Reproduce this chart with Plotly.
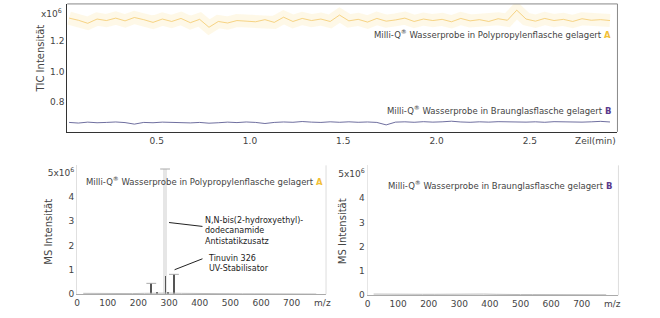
import plotly.graph_objects as go

# ---------------- data ----------------
tic_time = [0.03, 0.08, 0.13, 0.18, 0.23, 0.28, 0.33, 0.38, 0.43, 0.48,
            0.53, 0.58, 0.63, 0.68, 0.73, 0.78, 0.83, 0.88, 0.93, 0.98,
            1.03, 1.08, 1.13, 1.18, 1.23, 1.28, 1.33, 1.38, 1.43, 1.48,
            1.53, 1.58, 1.63, 1.68, 1.73, 1.78, 1.83, 1.88, 1.93, 1.98,
            2.03, 2.08, 2.13, 2.18, 2.23, 2.28, 2.33, 2.38, 2.43, 2.48,
            2.53, 2.58, 2.63, 2.68, 2.73, 2.78, 2.83, 2.88, 2.93]
tic_a = [1.352, 1.338, 1.318, 1.346, 1.336, 1.352, 1.334, 1.356, 1.342, 1.324,
         1.346, 1.330, 1.350, 1.322, 1.344, 1.292, 1.330, 1.320, 1.336, 1.332,
         1.328, 1.342, 1.324, 1.358, 1.330, 1.350, 1.336, 1.346, 1.330, 1.372,
         1.334, 1.344, 1.326, 1.350, 1.332, 1.340, 1.352, 1.330, 1.346, 1.336,
         1.344, 1.328, 1.350, 1.334, 1.342, 1.330, 1.348, 1.338, 1.404, 1.346,
         1.332, 1.350, 1.336, 1.344, 1.330, 1.348, 1.338, 1.342, 1.336]
tic_b = [0.668, 0.664, 0.670, 0.666, 0.668, 0.671, 0.667, 0.657, 0.668, 0.666,
         0.670, 0.667, 0.669, 0.665, 0.668, 0.663, 0.666, 0.670, 0.667, 0.671,
         0.668, 0.661, 0.668, 0.671, 0.669, 0.674, 0.670, 0.668, 0.672, 0.669,
         0.672, 0.669, 0.671, 0.668, 0.652, 0.670, 0.672, 0.669, 0.673, 0.670,
         0.672, 0.676, 0.671, 0.669, 0.672, 0.670, 0.673, 0.671, 0.674, 0.670,
         0.672, 0.669, 0.673, 0.671, 0.674, 0.670, 0.672, 0.675, 0.671]

ms_a_major_mz = [287]
ms_a_major_int = [5.15]
ms_a_mz = [242, 262, 289, 297, 316]
ms_a_int = [0.45, 0.05, 0.75, 0.10, 0.82]
ms_base_mz = [20, 60, 100, 140, 180, 220, 260, 300, 340, 380, 420, 460, 500, 540, 580, 620, 660, 700, 740, 780]
ms_a_base = [0.04, 0.03, 0.04, 0.03, 0.03, 0.04, 0.05, 0.05, 0.04, 0.03, 0.03, 0.02, 0.03, 0.02, 0.02, 0.02, 0.02, 0.02, 0.01, 0.01]
ms_b_base = [0.05, 0.04, 0.05, 0.04, 0.04, 0.04, 0.05, 0.05, 0.04, 0.05, 0.04, 0.05, 0.03, 0.03, 0.03, 0.02, 0.02, 0.02, 0.02, 0.02]

tic_xticks = [0.5, 1.0, 1.5, 2.0, 2.5]
tic_yticks = [0.8, 1.0, 1.2]
ms_xticks = [0, 100, 200, 300, 400, 500, 600, 700, 800]
ms_xlabels = ["0", "100", "200", "300", "400", "500", "600", "700", "m/z"]
ms_yticks = [0, 1, 2, 3, 4, 5]
ms_ylabels = ["0", "1", "2", "3", "4", "5x10<sup>6</sup>"]

label_a = "Milli-Q<sup>®</sup> Wasserprobe in Polypropylenflasche gelagert <b><span style='color:#f2c037'>A</span></b>"
label_b = "Milli-Q<sup>®</sup> Wasserprobe in Braunglasflasche gelagert <b><span style='color:#5b3a8c'>B</span></b>"

FONT = "DejaVu Sans"
TXT = "#444444"
W, H = 660, 318

def px(x):
    return x / W

def py(y):
    return 1 - y / H

fig = go.Figure()

# ---- TIC panel ----
fig.add_trace(go.Scatter(x=tic_time, y=tic_a, mode="lines", xaxis="x", yaxis="y",
                         line=dict(color="rgba(252,232,175,0.30)", width=13), hoverinfo="skip"))
fig.add_trace(go.Scatter(x=tic_time, y=tic_a, mode="lines", xaxis="x", yaxis="y",
                         line=dict(color="#f4c96a", width=0.8)))
fig.add_trace(go.Scatter(x=tic_time, y=tic_b, mode="lines", xaxis="x", yaxis="y",
                         line=dict(color="#4a4a86", width=0.8)))

# ---- MS A ----
fig.add_trace(go.Scatter(x=ms_base_mz, y=ms_a_base, mode="lines", xaxis="x2", yaxis="y2",
                         line=dict(color="#bbbbbb", width=1)))
fig.add_trace(go.Bar(x=ms_a_major_mz, y=ms_a_major_int, width=11, xaxis="x2", yaxis="y2",
                     marker=dict(color="#e6e6e6", line=dict(width=0))))
fig.add_trace(go.Bar(x=ms_a_mz, y=ms_a_int, width=2.6, xaxis="x2", yaxis="y2",
                     marker=dict(color="#555555", line=dict(width=0))))
fig.add_trace(go.Scatter(x=ms_a_major_mz + [242, 316], y=ms_a_major_int + [0.45, 0.82],
                         mode="markers", xaxis="x2", yaxis="y2",
                         marker=dict(symbol="line-ew", size=7, line=dict(color="#aaaaaa", width=1))))

# ---- MS B ----
fig.add_trace(go.Scatter(x=ms_base_mz, y=ms_b_base, mode="lines", xaxis="x3", yaxis="y3",
                         line=dict(color="#bbbbbb", width=1)))

tickfont = dict(family=FONT, size=9, color=TXT)

fig.update_layout(
    width=W, height=H, margin=dict(l=0, r=0, t=0, b=0),
    paper_bgcolor="white", plot_bgcolor="white", showlegend=False,
    bargap=0, barmode="overlay",
    font=dict(family=FONT, color=TXT),
    xaxis=dict(domain=[px(65), px(622)], anchor="y", range=[0.02, 2.97],
               tickvals=tic_xticks, ticktext=["0.5", "1.0", "1.5", "2.0", "2.5"],
               showgrid=False, zeroline=False, showline=True, linecolor="#333333", linewidth=1,
               mirror=False, ticks="", tickfont=tickfont),
    yaxis=dict(domain=[py(134), py(4)], anchor="x", range=[0.606, 1.445],
               tickvals=tic_yticks, ticktext=["0.8", "1.0", "1.2"],
               showgrid=False, zeroline=False, showline=True, linecolor="#333333", linewidth=1,
               ticks="", tickfont=tickfont),
    xaxis2=dict(domain=[px(75), px(327)], anchor="y2", range=[0, 812],
                tickvals=ms_xticks, ticktext=ms_xlabels,
                showgrid=False, zeroline=False, showline=True, linecolor="#aaaaaa", linewidth=1,
                ticks="", tickfont=tickfont),
    yaxis2=dict(domain=[py(299), py(168)], anchor="x2", range=[0, 5.3],
                tickvals=ms_yticks, ticktext=ms_ylabels,
                showgrid=False, zeroline=False, showline=True, linecolor="#e0e0e0", linewidth=1,
                ticks="", tickfont=tickfont),
    xaxis3=dict(domain=[px(369), px(623)], anchor="y3", range=[0, 820],
                tickvals=ms_xticks, ticktext=ms_xlabels,
                showgrid=False, zeroline=False, showline=True, linecolor="#aaaaaa", linewidth=1,
                ticks="", tickfont=tickfont),
    yaxis3=dict(domain=[py(300), py(168)], anchor="x3", range=[0, 5.35],
                tickvals=ms_yticks, ticktext=ms_ylabels,
                showgrid=False, zeroline=False, showline=True, linecolor="#e6e6e6", linewidth=1,
                ticks="", tickfont=tickfont),
)

shapes = [
    dict(type="line", xref="x domain", yref="y domain", x0=0, x1=1, y0=1, y1=1,
         line=dict(color="#888888", width=1)),
    dict(type="line", xref="x domain", yref="y domain", x0=1, x1=1, y0=0, y1=1,
         line=dict(color="#888888", width=1)),
    dict(type="line", xref="x2 domain", yref="y2 domain", x0=1, x1=1, y0=0, y1=1,
         line=dict(color="#dddddd", width=1)),
    dict(type="line", xref="x3 domain", yref="y3 domain", x0=1, x1=1, y0=0, y1=1,
         line=dict(color="#dddddd", width=1)),
    dict(type="line", xref="x2", yref="y2", x0=300, y0=2.95, x1=409, y1=2.79,
         line=dict(color="#222222", width=1)),
    dict(type="line", xref="x2", yref="y2", x0=318, y0=1.01, x1=409, y1=1.46,
         line=dict(color="#222222", width=1)),
]

ann = [
    dict(text="x10<sup>6</sup>", xref="paper", yref="paper", x=px(62), y=py(13),
         xanchor="right", yanchor="middle", showarrow=False, font=dict(size=9)),
    dict(text="TIC Intensität", xref="paper", yref="paper", x=px(38), y=py(60),
         xanchor="center", yanchor="middle", textangle=-90, showarrow=False, font=dict(size=10)),
    dict(text="Zeil(min)", xref="x", yref="paper", x=2.85, y=py(143),
         xanchor="center", yanchor="middle", showarrow=False, font=dict(size=9)),
    dict(text=label_a, xref="paper", yref="paper", x=px(617), y=py(35),
         xanchor="right", yanchor="middle", showarrow=False, font=dict(size=8.5)),
    dict(text=label_b, xref="paper", yref="paper", x=px(617), y=py(112),
         xanchor="right", yanchor="middle", showarrow=False, font=dict(size=8.5)),
    dict(text="MS Intensität", xref="paper", yref="paper", x=px(46), y=py(235),
         xanchor="center", yanchor="middle", textangle=-90, showarrow=False, font=dict(size=10)),
    dict(text="MS Intensität", xref="paper", yref="paper", x=px(343), y=py(235),
         xanchor="center", yanchor="middle", textangle=-90, showarrow=False, font=dict(size=10)),
    dict(text=label_a, xref="paper", yref="paper", x=px(326), y=py(184),
         xanchor="right", yanchor="middle", showarrow=False, font=dict(size=8.5)),
    dict(text=label_b, xref="paper", yref="paper", x=px(618), y=py(188),
         xanchor="right", yanchor="middle", showarrow=False, font=dict(size=8.5)),
    dict(text="N,N-bis(2-hydroxyethyl)-<br>dodecanamide<br>Antistatikzusatz", xref="x2", yref="y2",
         x=412, y=2.62, xanchor="left", yanchor="middle", align="left", showarrow=False,
         font=dict(size=8, color="#222222")),
    dict(text="Tinuvin 326<br>UV-Stabilisator", xref="x2", yref="y2",
         x=420, y=1.28, xanchor="left", yanchor="middle", align="left", showarrow=False,
         font=dict(size=8, color="#222222")),
]

fig.update_layout(shapes=shapes, annotations=ann)
fig.write_html("out.html")
